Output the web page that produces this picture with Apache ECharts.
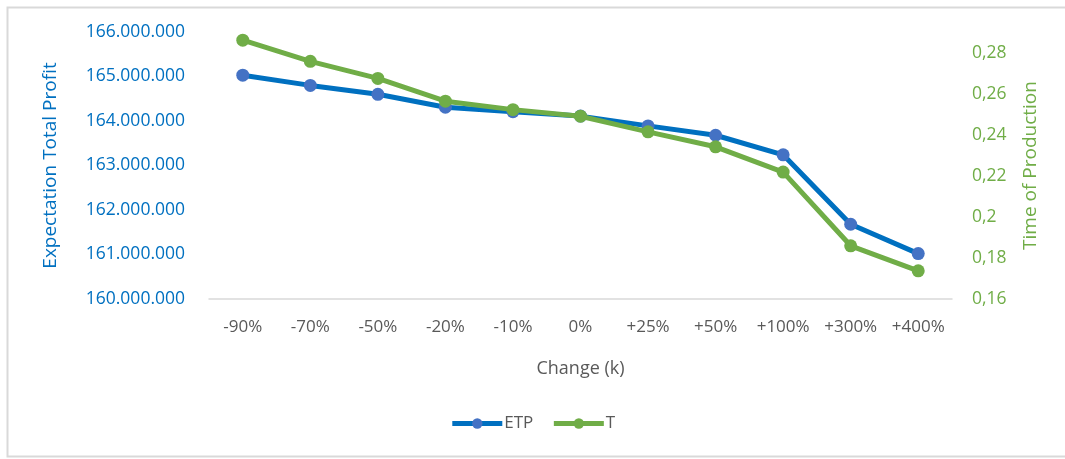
<!DOCTYPE html>
<html>
<head>
<meta charset="utf-8">
<script src="https://cdn.jsdelivr.net/npm/echarts@6/dist/echarts.min.js"></script>
<style>
  html, body { margin: 0; padding: 0; background: #fff; }
  #chart { width: 1065px; height: 459px; }
</style>
</head>
<body>
<div id="chart"></div>
<script>
// Sensitivity of expected total profit and production time to the change in k
const categories = ['-90%', '-70%', '-50%', '-20%', '-10%', '0%', '+25%', '+50%', '+100%', '+300%', '+400%'];
const etpValues = [165030000, 164800000, 164600000, 164310000, 164210000, 164110000, 163890000, 163680000, 163240000, 161680000, 161020000];
const tValues = [0.286, 0.2757, 0.2674, 0.2563, 0.2522, 0.249, 0.2414, 0.2341, 0.2218, 0.1859, 0.1737];
const etpTicks = [160000000, 166000000, 1000000];
const tTicks = [0.16, 0.29, 0.02];

const FONT = 'Open Sans';
const BLUE_LINE = '#0070C0';
const BLUE_DOT = '#4472C4';
const GREEN = '#70AD47';

function thousands(v) {
  return Math.round(v).toString().replace(/\B(?=(\d{3})+(?!\d))/g, '.');
}
function decimalComma(v) {
  return (Math.round(v * 100) / 100).toString().replace('.', ',');
}

const chart = echarts.init(document.getElementById('chart'), null, { renderer: 'canvas' });
chart.setOption({
  backgroundColor: '#fff',
  animation: false,
  textStyle: { fontFamily: FONT },
  graphic: [{
    type: 'rect',
    shape: { x: 7.5, y: 7.5, width: 1070, height: 449 },
    style: { fill: 'none', stroke: '#D9D9D9', lineWidth: 2 },
    silent: true
  }],
  grid: { left: 209, right: 113, top: 32, bottom: 160 },
  legend: {
    bottom: 22,
    left: 'center',
    itemWidth: 50,
    itemHeight: 13,
    itemGap: 18,
    textStyle: { color: '#595959', fontSize: 17, fontFamily: FONT, padding: [0, 0, 0, -3] },
    data: [
      { name: 'ETP', lineStyle: { width: 5, color: BLUE_LINE }, itemStyle: { color: BLUE_DOT } },
      { name: 'T', lineStyle: { width: 5, color: GREEN }, itemStyle: { color: GREEN } }
    ]
  },
  xAxis: {
    type: 'category',
    data: categories,
    name: 'Change (k)',
    nameLocation: 'middle',
    nameGap: 61,
    nameTextStyle: { color: '#595959', fontSize: 18, fontFamily: FONT },
    axisLine: { lineStyle: { color: '#D9D9D9', width: 1.5 } },
    axisTick: { show: false },
    axisLabel: { color: '#595959', fontSize: 17, margin: 20, interval: 0, fontFamily: FONT }
  },
  yAxis: [{
    type: 'value',
    min: etpTicks[0],
    max: etpTicks[1],
    interval: etpTicks[2],
    position: 'left',
    name: 'Expectation Total Profit',
    nameLocation: 'middle',
    nameGap: 149,
    nameRotate: 90,
    nameTextStyle: { color: '#0070C0', fontSize: 19, fontFamily: FONT },
    axisLine: { show: false },
    axisTick: { show: false },
    splitLine: { show: false },
    axisLabel: { color: '#0070C0', fontSize: 17.5, margin: 24, fontFamily: FONT, formatter: thousands }
  }, {
    type: 'value',
    min: tTicks[0],
    max: tTicks[1],
    interval: tTicks[2],
    position: 'right',
    name: 'Time of Production',
    nameLocation: 'middle',
    nameGap: 69,
    nameRotate: 90,
    nameTextStyle: { color: GREEN, fontSize: 19, fontFamily: FONT },
    axisLine: { show: false },
    axisTick: { show: false },
    splitLine: { show: false },
    axisLabel: { color: GREEN, fontSize: 17.5, margin: 20, fontFamily: FONT, showMaxLabel: false, formatter: decimalComma }
  }],
  series: [{
    name: 'ETP',
    type: 'line',
    yAxisIndex: 0,
    data: etpValues,
    symbol: 'circle',
    symbolSize: 13,
    lineStyle: { color: BLUE_LINE, width: 5 },
    itemStyle: { color: BLUE_DOT, borderWidth: 0 },
    color: BLUE_LINE,
    z: 2
  }, {
    name: 'T',
    type: 'line',
    yAxisIndex: 1,
    data: tValues,
    symbol: 'circle',
    symbolSize: 13,
    lineStyle: { color: GREEN, width: 5 },
    itemStyle: { color: GREEN, borderWidth: 0 },
    color: GREEN,
    z: 3
  }]
});
</script>
</body>
</html>
